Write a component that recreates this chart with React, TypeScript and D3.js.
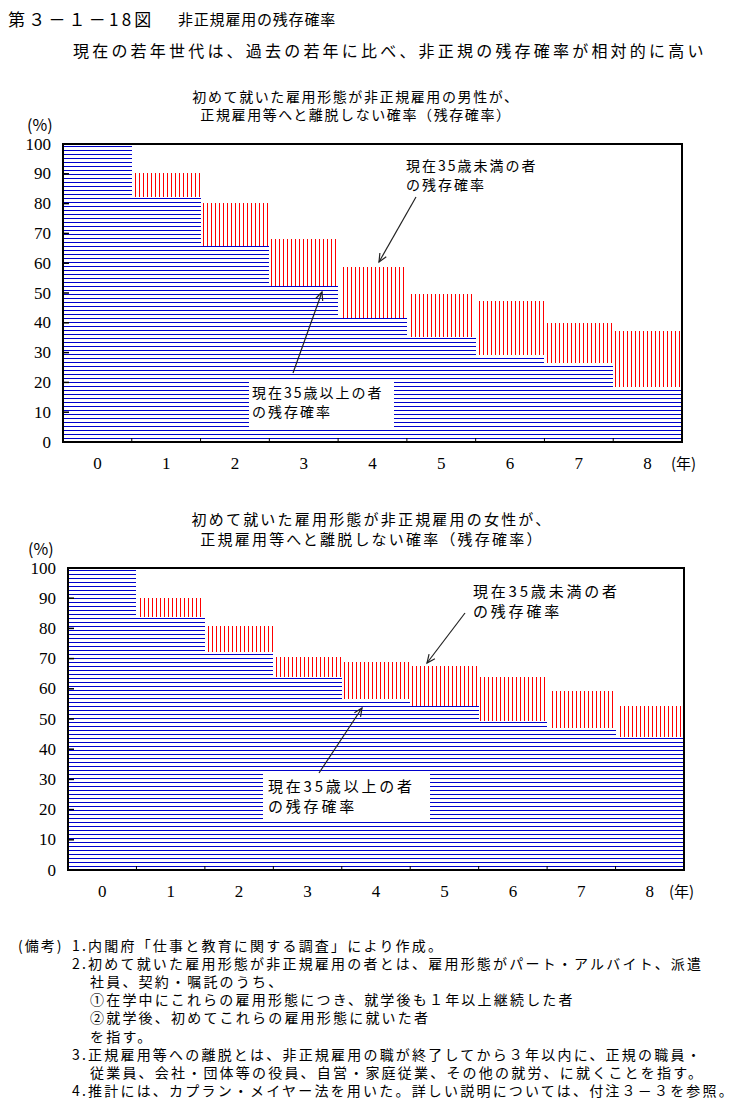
import React from 'react';
import * as d3 from 'd3';

const years = ['0', '1', '2', '3', '4', '5', '6', '7', '8'];
const yTicks = [0, 10, 20, 30, 40, 50, 60, 70, 80, 90, 100];

const maleUnder35 = [100, 90.2, 80.3, 68.2, 58.8, 49.7, 47.3, 39.8, 37.2];
const maleOver35 = [100, 82.3, 65.9, 52.5, 41.7, 35.1, 29.2, 26.4, 18.6];
const femaleUnder35 = [100, 90.2, 80.8, 70.6, 68.8, 67.7, 63.9, 59.3, 54.3];
const femaleOver35 = [100, 83.7, 72.3, 64.0, 56.6, 54.4, 49.4, 47.1, 43.9];

const figTitleA = '第３－１－18図';
const figTitleB = '非正規雇用の残存確率';
const subTitle = '現在の若年世代は、過去の若年に比べ、非正規の残存確率が相対的に高い';
const maleTitle = ['初めて就いた雇用形態が非正規雇用の男性が、', '正規雇用等へと離脱しない確率（残存確率）'];
const femaleTitle = ['初めて就いた雇用形態が非正規雇用の女性が、', '正規雇用等へと離脱しない確率（残存確率）'];
const labelUnder = ['現在35歳未満の者', 'の残存確率'];
const labelOver = ['現在35歳以上の者', 'の残存確率'];
const yUnit = '(%)';
const xUnit = '(年)';

const notes: [number, string][] = [
  [72, '1.内閣府「仕事と教育に関する調査」により作成。'],
  [72, '2.初めて就いた雇用形態が非正規雇用の者とは、雇用形態がパート・アルバイト、派遣'],
  [90, '社員、契約・嘱託のうち、'],
  [90, '①在学中にこれらの雇用形態につき、就学後も１年以上継続した者'],
  [90, '②就学後、初めてこれらの雇用形態に就いた者'],
  [90, 'を指す。'],
  [72, '3.正規雇用等への離脱とは、非正規雇用の職が終了してから３年以内に、正規の職員・'],
  [90, '従業員、会社・団体等の役員、自営・家庭従業、その他の就労、に就くことを指す。'],
  [72, '4.推計には、カプラン・メイヤー法を用いた。詳しい説明については、付注３－３を参照。'],
];

const JP = '"Noto Sans CJK JP", "Noto Sans", sans-serif';
const SERIF = '"Liberation Serif", "DejaVu Serif", serif';
const BLUE = '#0000CC';
const RED = '#FF0000';

function Arrow({ x1, y1, x2, y2 }: { x1: number; y1: number; x2: number; y2: number }) {
  const ang = Math.atan2(y2 - y1, x2 - x1);
  const len = 9;
  const spread = 0.42;
  const ax = x2 - len * Math.cos(ang - spread);
  const ay = y2 - len * Math.sin(ang - spread);
  const bx = x2 - len * Math.cos(ang + spread);
  const by = y2 - len * Math.sin(ang + spread);
  return (
    <g stroke="#222" strokeWidth={1.2} fill="none">
      <line x1={x1} y1={y1} x2={x2} y2={y2} />
      <path d={`M${ax},${ay} L${x2},${y2} L${bx},${by}`} />
    </g>
  );
}

type ChartProps = {
  id: string;
  box: { l: number; r: number; t: number; b: number };
  under: number[];
  over: number[];
  titleLines: string[];
  titleCx: number;
  titleYs: number[];
  titleFont: number;
  titleLs: number;
  pct: { x: number; y: number };
  xLabelY: number;
  xUnitPos: { x: number; y: number };
  annFont: number;
  annLs: number;
  annUnder: { x: number; ys: number[]; arrow: number[] };
  annOver: { box: number[]; x: number; ys: number[]; arrow: number[] };
};

function Chart(p: ChartProps) {
  const { box } = p;
  const x = d3.scaleBand<string>().domain(years).range([box.l, box.r]).padding(0);
  const y = d3.scaleLinear().domain([0, 100]).range([box.b, box.t]);
  const bw = x.bandwidth();

  const bars = years.map((yr, i) => {
    const x0 = x(yr)!;
    const x1 = x0 + bw;
    const yu = y(p.under[i]);
    const yo = y(p.over[i]);
    const vx = d3.range(box.l, box.r, 4).filter((v) => v >= x0 + 1 && v <= x1 - 1);
    const hy = d3.range(box.t + 2, box.b, 4).filter((v) => v >= yo - 0.5 && v < box.b);
    return { yr, x0, x1, yu, yo, vx, hy };
  });

  return (
    <g>
      {p.titleLines.map((t, i) => (
        <text key={i} x={p.titleCx} y={p.titleYs[i]} textAnchor="middle" dominantBaseline="central"
          fontFamily={JP} fontSize={p.titleFont} letterSpacing={p.titleLs}>{t}</text>
      ))}
      <text x={p.pct.x} y={p.pct.y} dominantBaseline="central" fontFamily={JP} fontSize={16}>{yUnit}</text>
      <g shapeRendering="crispEdges">
        {bars.map((b) => (
          <g key={'u' + b.yr}>
            {b.vx.map((vx) => (
              <line key={vx} x1={vx + 0.5} x2={vx + 0.5} y1={b.yu} y2={b.yo} stroke={RED} strokeWidth={1} />
            ))}
          </g>
        ))}
        {bars.map((b) => (
          <g key={'o' + b.yr}>
            {b.hy.map((hy) => (
              <line key={hy} x1={b.x0} x2={b.x1} y1={hy + 0.5} y2={hy + 0.5} stroke={BLUE} strokeWidth={1} />
            ))}
          </g>
        ))}
      </g>
      <rect x={p.annOver.box[0]} y={p.annOver.box[1]} width={p.annOver.box[2]} height={p.annOver.box[3]} fill="#fff" />
      {labelOver.map((t, i) => (
        <text key={'lo' + i} x={p.annOver.x} y={p.annOver.ys[i]} dominantBaseline="central"
          fontFamily={JP} fontSize={p.annFont} letterSpacing={p.annLs}>{t}</text>
      ))}
      {labelUnder.map((t, i) => (
        <text key={'lu' + i} x={p.annUnder.x} y={p.annUnder.ys[i]} dominantBaseline="central"
          fontFamily={JP} fontSize={p.annFont} letterSpacing={p.annLs}>{t}</text>
      ))}
      <Arrow x1={p.annUnder.arrow[0]} y1={p.annUnder.arrow[1]} x2={p.annUnder.arrow[2]} y2={p.annUnder.arrow[3]} />
      <Arrow x1={p.annOver.arrow[0]} y1={p.annOver.arrow[1]} x2={p.annOver.arrow[2]} y2={p.annOver.arrow[3]} />
      <rect x={box.l} y={box.t} width={box.r - box.l} height={box.b - box.t} fill="none" stroke="#000" strokeWidth={2} />
      {yTicks.map((v) => (
        <g key={'yt' + v}>
          <line x1={box.l} x2={box.l + 6} y1={y(v)} y2={y(v)} stroke="#000" strokeWidth={1.5} />
          <text x={box.l - 12} y={y(v)} textAnchor="end" dominantBaseline="central" fontFamily={SERIF} fontSize={17}>{v}</text>
        </g>
      ))}
      {years.slice(1).map((yr) => (
        <line key={'xt' + yr} x1={x(yr)!} x2={x(yr)!} y1={box.b} y2={box.b - 4} stroke="#000" strokeWidth={1} />
      ))}
      {years.map((yr) => (
        <text key={'xl' + yr} x={x(yr)! + bw / 2} y={p.xLabelY} textAnchor="middle" dominantBaseline="central"
          fontFamily={SERIF} fontSize={17}>{yr}</text>
      ))}
      <text x={p.xUnitPos.x} y={p.xUnitPos.y} dominantBaseline="central" fontFamily={JP} fontSize={15}>{xUnit}</text>
    </g>
  );
}

export default function App() {
  return (
    <svg width={734} height={1100} viewBox="0 0 734 1100" style={{ position: 'absolute', left: 0, top: 0, background: '#fff' }}>
      <rect x={0} y={0} width={734} height={1100} fill="#fff" />
      <text x={8} y={18} dominantBaseline="central" fontFamily={JP} fontSize={17} letterSpacing={3.2}>{figTitleA}</text>
      <text x={178} y={18} dominantBaseline="central" fontFamily={JP} fontSize={15} letterSpacing={0.8}>{figTitleB}</text>
      <text x={73} y={50} dominantBaseline="central" fontFamily={JP} fontSize={16} letterSpacing={3.2}>{subTitle}</text>
      <Chart
        id="male"
        box={{ l: 63, r: 682, t: 144, b: 442 }}
        under={maleUnder35}
        over={maleOver35}
        titleLines={maleTitle}
        titleCx={356}
        titleYs={[96, 114]}
        titleFont={14}
        titleLs={1.6}
        pct={{ x: 27, y: 124 }}
        xLabelY={463}
        xUnitPos={{ x: 671, y: 462 }}
        annFont={14}
        annLs={2}
        annUnder={{ x: 406, ys: [165, 184], arrow: [416, 197, 379, 262] }}
        annOver={{ box: [249, 382, 145, 46], x: 252, ys: [392, 411], arrow: [293, 373, 322, 292] }}
      />
      <Chart
        id="female"
        box={{ l: 68, r: 684, t: 568, b: 870 }}
        under={femaleUnder35}
        over={femaleOver35}
        titleLines={femaleTitle}
        titleCx={372}
        titleYs={[518, 538]}
        titleFont={15}
        titleLs={2.2}
        pct={{ x: 28, y: 548 }}
        xLabelY={891}
        xUnitPos={{ x: 669, y: 890 }}
        annFont={15}
        annLs={2.8}
        annUnder={{ x: 473, ys: [590, 610], arrow: [465, 613, 427, 663] }}
        annOver={{ box: [263, 772, 167, 50], x: 268, ys: [785, 805], arrow: [319, 773, 362, 708] }}
      />
      <text x={18} y={945} dominantBaseline="central" fontFamily={JP} fontSize={14} letterSpacing={2}>(備考)</text>
      {notes.map(([nx, t], i) => (
        <text key={'n' + i} x={nx} y={945 + i * 18.1} dominantBaseline="central" fontFamily={JP} fontSize={14} letterSpacing={2.2}>{t}</text>
      ))}
    </svg>
  );
}
